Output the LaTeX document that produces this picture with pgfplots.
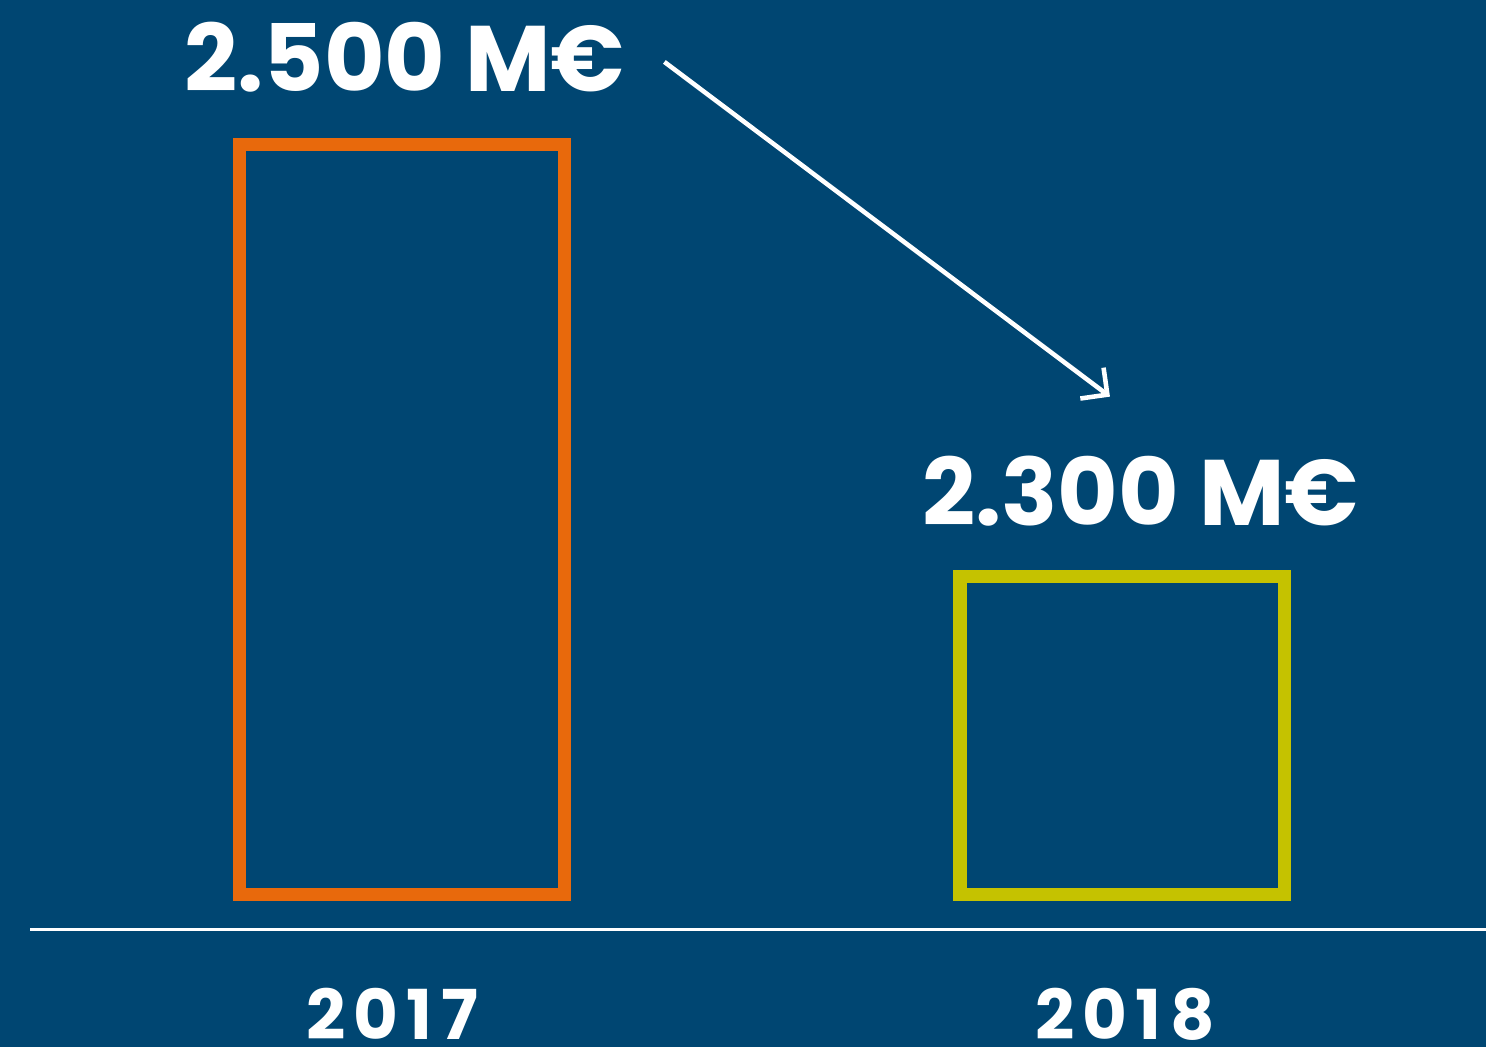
\documentclass[border=0pt]{standalone}
\usepackage{pgfplots}
\pgfplotsset{compat=1.18}
\usetikzlibrary{arrows.meta}
\usepackage{fontspec}
\setmainfont{Poppins}
\newfontfamily\yearfont{Poppins}[LetterSpace=12]
\definecolor{bg}{HTML}{004672}
\definecolor{barorange}{HTML}{E8690C}
\definecolor{barolive}{HTML}{C5C200}
\begin{document}
\begin{tikzpicture}
\fill[bg] (0,0) rectangle (14.87,10.48);
\begin{axis}[at={(0,0)}, anchor=south west, scale only axis,
  width=14.87cm, height=10.48cm,
  xmin=-0.5583, xmax=1.5042, ymin=-153, ymax=895,
  hide axis, clip=false,
  ybar, bar width=0.4508, bar shift=0pt,
  y filter/.expression={(y-2153)*2.16340}]
\addplot[draw=barorange, fill=none, line width=3.78pt, line join=miter] coordinates {(0,2500)};
\addplot[draw=barolive, fill=none, line width=3.78pt, line join=miter] coordinates {(1,2300)};
\draw[white, line width=0.8pt] (axis cs:-0.5166,-35) -- (axis cs:1.5042,-35);
\draw[white, line width=1.3pt, -{Straight Barb[length=5.5pt,width=11pt,line width=1.3pt]}] (axis cs:0.3641,833) -- (axis cs:0.9827,498);
\node[white, anchor=base, font=\bfseries\fontsize{26.5}{30}\selectfont] at (axis cs:0.0035,803.3) {2.500 M€};
\node[white, anchor=base, font=\bfseries\fontsize{26.5}{30}\selectfont] at (axis cs:1.025,369) {2.300 M€};
\node[white, anchor=base, font=\yearfont\bfseries\fontsize{19.6}{22}\selectfont] at (axis cs:-0.0139,-145) {2017};
\node[white, anchor=base, font=\yearfont\bfseries\fontsize{19.6}{22}\selectfont] at (axis cs:1.0035,-145) {2018};
\end{axis}
\end{tikzpicture}
\end{document}
